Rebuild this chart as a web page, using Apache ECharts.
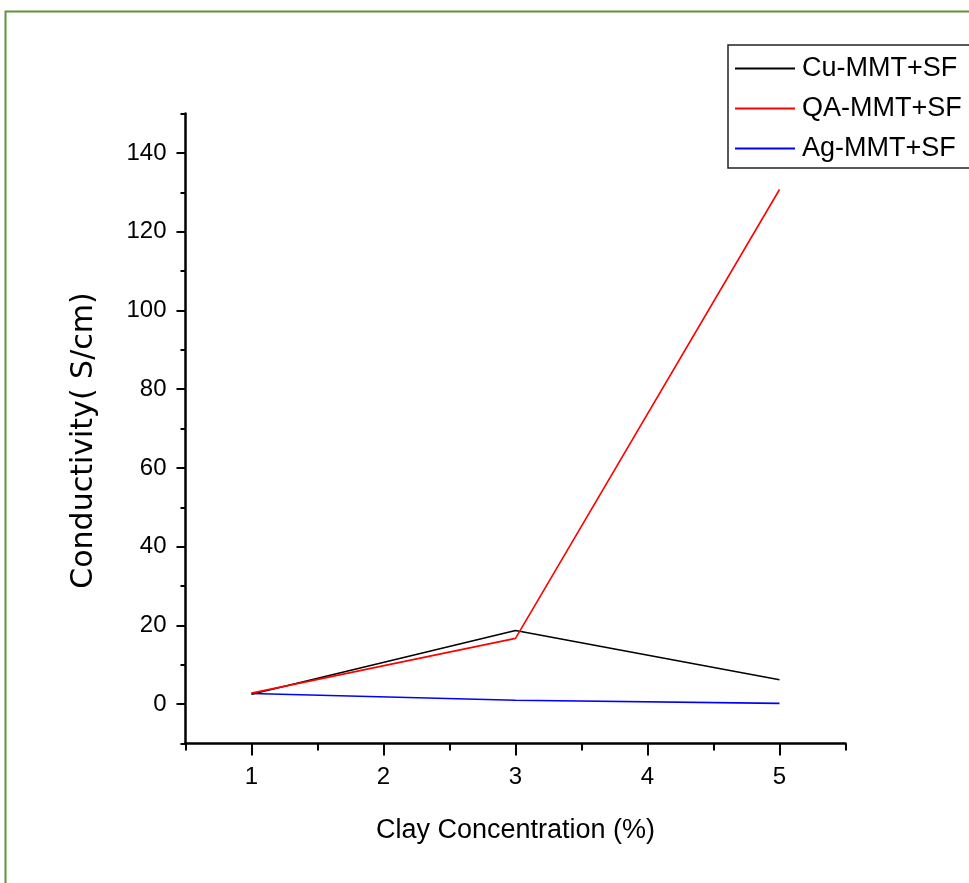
<!DOCTYPE html>
<html>
<head>
<meta charset="utf-8">
<script src="https://cdn.jsdelivr.net/npm/echarts@6/dist/echarts.min.js"></script>
<style>
html,body{margin:0;padding:0;background:#fff;}
#chart{width:969px;height:883px;}
</style>
</head>
<body>
<div id="chart"></div>
<script>
// ---- data ----
const xValues = [1, 3, 5];
const seriesNames = ['Cu-MMT+SF', 'QA-MMT+SF', 'Ag-MMT+SF'];
const cuValues = [2.5, 18.7, 6.2];
const qaValues = [2.8, 16.7, 130.7];
const agValues = [2.7, 1.0, 0.2];
const xMajorTicks = [1, 2, 3, 4, 5];
const xMinorTicks = [0.5, 1.5, 2.5, 3.5, 4.5, 5.5];
const yMajorTicks = [0, 20, 40, 60, 80, 100, 120, 140];
const yMinorTicks = [-10, 10, 30, 50, 70, 90, 110, 130, 150];
const xTitle = 'Clay Concentration (%)';
const yTitle = 'Conductivity( S/cm)';

const pairs = v => xValues.map((x, i) => [x, v[i]]);

const chart = echarts.init(document.getElementById('chart'), null, {renderer: 'canvas'});
const tickFont = {fontFamily: '"Liberation Sans Narrow", "Liberation Sans", Arial, sans-serif', fontSize: 24, color: '#000'};
const axisLineStyle = {color: '#000', width: 2.5};

const option = {
  backgroundColor: '#fff',
  animation: false,
  graphic: [{
    type: 'rect',
    shape: {x: 5.5, y: 11.5, width: 990, height: 900},
    style: {fill: 'none', stroke: '#5f9436', lineWidth: 2},
    silent: true, z: 0
  }],
  grid: {left: 185.5, top: 113.5, width: 660, height: 630, containLabel: false},
  legend: {
    orient: 'vertical',
    left: 728, top: 45,
    data: seriesNames,
    icon: 'rect',
    itemWidth: 60, itemHeight: 2,
    itemGap: 13,
    padding: [10, 30, 6, 7],
    borderColor: '#222', borderWidth: 1.5,
    textStyle: {fontFamily: '"Liberation Sans", Arial, sans-serif', fontSize: 27, color: '#000', padding: [0, 0, 0, 2]}
  },
  xAxis: [{
    type: 'value', min: 0.5, max: 5.5, interval: 0.5,
    position: 'bottom',
    name: xTitle, nameLocation: 'middle', nameGap: 74,
    nameTextStyle: {fontFamily: '"Liberation Sans", Arial, sans-serif', fontSize: 27, color: '#000'},
    axisLine: {show: true, onZero: false, lineStyle: axisLineStyle},
    axisTick: {show: true, inside: false, length: 12, lineStyle: {color: '#000', width: 2}, customValues: xMajorTicks},
    axisLabel: {show: true, margin: 22, customValues: xMajorTicks, ...tickFont},
    splitLine: {show: false}
  }, {
    type: 'value', min: 0.5, max: 5.5, interval: 0.5,
    position: 'bottom',
    axisLine: {show: false, onZero: false},
    axisTick: {show: true, length: 7, lineStyle: {color: '#000', width: 2}, customValues: xMinorTicks},
    axisLabel: {show: false},
    splitLine: {show: false}
  }],
  yAxis: [{
    type: 'value', min: -10, max: 150, interval: 10,
    position: 'left',
    name: yTitle, nameLocation: 'middle', nameGap: 86, nameRotate: 90,
    nameTextStyle: {fontFamily: '"DejaVu Sans", sans-serif', fontSize: 30, color: '#000', padding: [0, 24, 0, 0]},
    axisLine: {show: true, onZero: false, lineStyle: axisLineStyle},
    axisTick: {show: true, length: 9, lineStyle: {color: '#000', width: 2}, customValues: yMajorTicks},
    axisLabel: {show: true, margin: 19, customValues: yMajorTicks, ...tickFont},
    splitLine: {show: false}
  }, {
    type: 'value', min: -10, max: 150, interval: 10,
    position: 'left',
    axisLine: {show: false, onZero: false},
    axisTick: {show: true, length: 5, lineStyle: {color: '#000', width: 2}, customValues: yMinorTicks},
    axisLabel: {show: false},
    splitLine: {show: false}
  }],
  series: [
    {name: seriesNames[0], type: 'line', data: pairs(cuValues), showSymbol: false, symbol: 'none', lineStyle: {color: '#000', width: 1.6}, itemStyle: {color: '#000'}, z: 3},
    {name: seriesNames[1], type: 'line', data: pairs(qaValues), showSymbol: false, symbol: 'none', lineStyle: {color: '#ff0000', width: 1.6}, itemStyle: {color: '#ff0000'}, z: 4},
    {name: seriesNames[2], type: 'line', data: pairs(agValues), showSymbol: false, symbol: 'none', lineStyle: {color: '#0000ff', width: 1.6}, itemStyle: {color: '#0000ff'}, z: 2}
  ]
};
chart.setOption(option);
</script>
</body>
</html>
